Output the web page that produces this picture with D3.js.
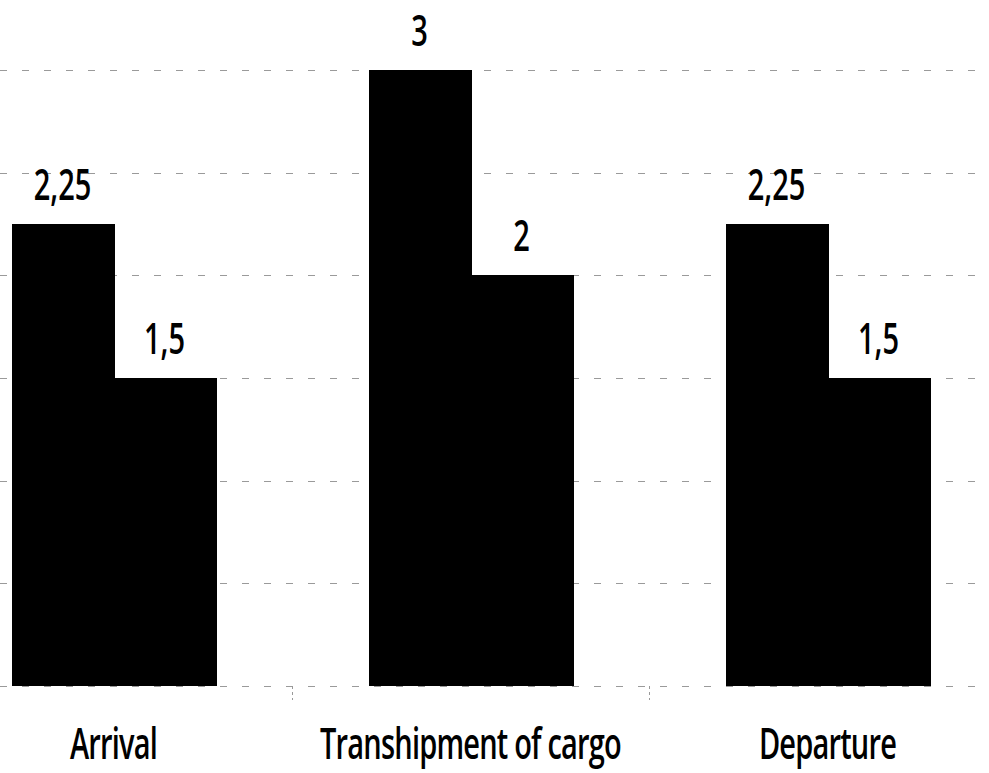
<!DOCTYPE html>
<html lang="en">
  <head>
    <meta charset="UTF-8" />
    <title>Bar Chart</title>
    <script src="https://cdn.jsdelivr.net/npm/d3@7"></script>
    <style>
      html, body { margin: 0; padding: 0; background: #fff; }
      svg { display: block; }
    </style>
  </head>
  <body>
    <div id="container"></div>
    <script>
      // data
      const categories = ['Arrival', 'Transhipment of cargo', 'Departure']
      const seriesNames = ['first', 'second']
      const firstValues = [2.25, 3, 2.25]
      const secondValues = [1.5, 2, 1.5]
      const gridValues = [0, 0.5, 1, 1.5, 2, 2.5, 3]

      const dataset = categories.map((c, i) => ({
        category: c,
        values: [
          { key: seriesNames[0], value: firstValues[i] },
          { key: seriesNames[1], value: secondValues[i] }
        ]
      }))

      // chart dimensions (the plot runs off both sides of the picture)
      const width = 989
      const height = 773
      const plotLeft = -65
      const plotRight = 1006
      const marginTop = 70
      const baseline = 686

      const fmt = (v) => String(v).replace('.', ',')

      // x scales: categories, then series inside each category
      const x0 = d3.scaleBand()
        .domain(categories)
        .range([plotLeft, plotRight])
        .paddingInner(0)

      const x1 = d3.scaleBand()
        .domain(seriesNames)
        .range([0, x0.bandwidth()])
        .paddingInner(0)
        .paddingOuter(0.75)

      // y scale
      const yScale = d3.scaleLinear()
        .domain([0, 3])
        .range([baseline, marginTop])

      const svg = d3.create('svg')
        .attr('width', width)
        .attr('height', height)
        .attr('viewBox', [0, 0, width, height])

      // dashed grid lines (faint, like the scan)
      svg.append('g')
        .attr('id', 'grid')
        .selectAll('line')
        .data(gridValues)
        .join('line')
        .attr('x1', 0)
        .attr('x2', width)
        .attr('y1', (d) => Math.round(yScale(d)) + 0.5)
        .attr('y2', (d) => Math.round(yScale(d)) + 0.5)
        .attr('stroke', '#9a9a9a')
        .attr('stroke-width', 1)
        .attr('stroke-dasharray', '7 15')

      // little tick marks between categories under the baseline
      svg.append('g')
        .attr('id', 'x-ticks')
        .selectAll('line')
        .data(categories.slice(1))
        .join('line')
        .attr('x1', (d) => Math.round(x0(d)) + 0.5)
        .attr('x2', (d) => Math.round(x0(d)) + 0.5)
        .attr('y1', baseline)
        .attr('y2', baseline + 14)
        .attr('stroke', '#999')
        .attr('stroke-dasharray', '3 3')

      // bars
      const groups = svg.append('g')
        .selectAll('g')
        .data(dataset)
        .join('g')
        .attr('transform', (d) => `translate(${Math.round(x0(d.category))},0)`)

      groups.selectAll('rect')
        .data((d) => d.values)
        .join('rect')
        .attr('x', (d) => Math.round(x1(d.key)))
        .attr('y', (d) => Math.round(yScale(d.value)))
        .attr('width', Math.round(x1.bandwidth()) + 1)
        .attr('height', (d) => baseline - Math.round(yScale(d.value)))
        .attr('fill', '#000')
        .attr('shape-rendering', 'crispEdges')

      // value labels
      groups.selectAll('text')
        .data((d) => d.values)
        .join('text')
        .attr('transform', (d) =>
          `translate(${x1(d.key) + x1.bandwidth() / 2},${yScale(d.value) - 24}) scale(1,1.5)`)
        .attr('text-anchor', 'middle')
        .attr('font-family', 'Open Sans, sans-serif')
        .attr('font-weight', 600)
        .attr('font-size', 29)
        .attr('fill', '#000')
        .text((d) => fmt(d.value))

      // category labels
      svg.append('g')
        .attr('id', 'x-axis')
        .selectAll('text')
        .data(categories)
        .join('text')
        .attr('transform', (d) =>
          `translate(${x0(d) + x0.bandwidth() / 2},759) scale(1,1.52)`)
        .attr('text-anchor', 'middle')
        .attr('font-family', 'Open Sans, sans-serif')
        .attr('font-weight', 600)
        .attr('font-size', 29)
        .attr('letter-spacing', -0.8)
        .attr('fill', '#000')
        .text((d) => d)

      container.append(svg.node())
    </script>
  </body>
</html>
